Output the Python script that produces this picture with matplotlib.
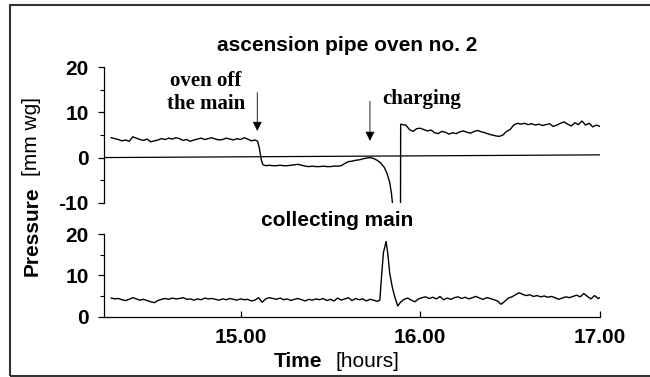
import matplotlib
matplotlib.use("Agg")
import matplotlib.pyplot as plt
from matplotlib.patches import Rectangle

plt.rcParams["axes.unicode_minus"] = False

# ascension pipe (oven no. 2) pressure, mm wg
top_time = [14.28, 14.30, 14.32, 14.34, 14.36, 14.38, 14.40, 14.42, 14.44, 14.46,
            14.48, 14.50, 14.52, 14.54, 14.56, 14.58, 14.60, 14.62, 14.64, 14.66,
            14.68, 14.70, 14.72, 14.74, 14.76, 14.78, 14.80, 14.82, 14.84, 14.86,
            14.88, 14.90, 14.92, 14.94, 14.96, 14.98, 15.00, 15.02, 15.04, 15.06,
            15.08, 15.095, 15.105, 15.115, 15.125, 15.14, 15.16, 15.18, 15.20, 15.22,
            15.24, 15.26, 15.28, 15.30, 15.32, 15.34, 15.36, 15.38, 15.40, 15.42,
            15.44, 15.46, 15.48, 15.50, 15.52, 15.54, 15.56, 15.58, 15.60, 15.62,
            15.64, 15.66, 15.68, 15.70, 15.72, 15.74, 15.76, 15.78, 15.80, 15.815,
            15.83, 15.84, 15.85, 15.88, 15.89, 15.891, 15.90, 15.92, 15.94, 15.96,
            15.98, 16.00, 16.02, 16.04, 16.06, 16.08, 16.10, 16.12, 16.14, 16.16,
            16.18, 16.20, 16.22, 16.24, 16.26, 16.28, 16.30, 16.32, 16.34, 16.36,
            16.38, 16.40, 16.42, 16.44, 16.46, 16.48, 16.50, 16.52, 16.54, 16.56,
            16.58, 16.60, 16.62, 16.64, 16.66, 16.68, 16.70, 16.72, 16.74, 16.76,
            16.78, 16.80, 16.82, 16.84, 16.86, 16.88, 16.90, 16.92, 16.94, 16.96,
            16.98, 17.00]
top_pressure = [4.4, 4.2, 4.0, 3.7, 3.9, 3.6, 4.6, 4.3, 4.0, 3.8,
                4.1, 3.5, 3.7, 3.9, 4.2, 4.0, 4.3, 4.1, 4.4, 4.2,
                3.8, 4.0, 3.6, 3.9, 4.1, 4.3, 4.0, 4.2, 4.4, 4.1,
                3.9, 4.0, 4.3, 4.1, 3.9, 4.2, 4.0, 4.4, 4.1, 3.7,
                3.9, 3.6, 2.0, -0.5, -1.6, -1.8, -1.7, -1.8, -1.8, -1.7,
                -1.8, -1.8, -1.7, -1.6, -1.5, -1.7, -1.9, -2.0, -1.9, -2.0,
                -2.0, -1.9, -2.0, -2.0, -1.9, -1.9, -1.8, -1.3, -0.9, -0.8,
                -0.6, -0.5, -0.3, -0.1, 0.0, -0.2, -0.6, -1.2, -2.2, -3.5,
                -5.5, -8.0, -12.0, -12.0, -12.0, 7.4, 7.3, 7.2, 6.2, 5.8,
                6.4, 6.5, 6.2, 5.9, 6.1, 5.5, 5.3, 5.8, 5.6, 5.2,
                5.5, 5.3, 5.7, 5.9, 5.6, 5.4, 5.8, 6.0, 5.7, 5.5,
                5.2, 5.0, 4.8, 4.7, 5.0, 5.8, 6.2, 7.2, 7.6, 7.4,
                7.6, 7.3, 7.5, 7.2, 7.4, 7.1, 7.3, 7.5, 6.9, 7.2,
                7.6, 7.9, 7.4, 7.0, 7.7, 7.3, 8.1, 7.2, 7.6, 6.8,
                7.2, 6.9]

# hand drawn reference line in the upper panel
baseline_time = [14.24, 17.00]
baseline_level = [0.0, 0.6]

# collecting main pressure, mm wg
main_time = [14.28, 14.30, 14.32, 14.34, 14.36, 14.38, 14.40, 14.42, 14.44, 14.46,
             14.48, 14.50, 14.52, 14.54, 14.56, 14.58, 14.60, 14.62, 14.64, 14.66,
             14.68, 14.70, 14.72, 14.74, 14.76, 14.78, 14.80, 14.82, 14.84, 14.86,
             14.88, 14.90, 14.92, 14.94, 14.96, 14.98, 15.00, 15.02, 15.04, 15.06,
             15.08, 15.10, 15.12, 15.14, 15.16, 15.18, 15.20, 15.22, 15.24, 15.26,
             15.28, 15.30, 15.32, 15.34, 15.36, 15.38, 15.40, 15.42, 15.44, 15.46,
             15.48, 15.50, 15.52, 15.54, 15.56, 15.58, 15.60, 15.62, 15.64, 15.66,
             15.68, 15.70, 15.72, 15.74, 15.76, 15.775, 15.785, 15.795, 15.81, 15.82,
             15.83, 15.845, 15.86, 15.875, 15.89, 15.91, 15.93, 15.95, 15.97, 15.99,
             16.01, 16.03, 16.05, 16.07, 16.09, 16.11, 16.13, 16.15, 16.17, 16.19,
             16.21, 16.23, 16.25, 16.27, 16.29, 16.31, 16.33, 16.35, 16.37, 16.39,
             16.41, 16.43, 16.45, 16.47, 16.49, 16.51, 16.53, 16.55, 16.57, 16.59,
             16.61, 16.63, 16.65, 16.67, 16.69, 16.71, 16.73, 16.75, 16.77, 16.79,
             16.81, 16.83, 16.85, 16.87, 16.89, 16.91, 16.93, 16.95, 16.97, 16.99,
             17.00]
main_pressure = [4.5, 4.3, 4.4, 4.1, 3.9, 4.2, 4.6, 4.3, 4.0, 4.2,
                 3.9, 3.6, 3.4, 3.9, 4.2, 4.4, 4.2, 4.5, 4.3, 4.4,
                 4.6, 4.2, 4.3, 4.0, 4.3, 4.1, 4.5, 4.3, 4.4, 4.2,
                 4.0, 4.3, 4.1, 4.4, 4.2, 4.0, 4.3, 4.1, 4.2, 3.8,
                 4.0, 4.6, 3.5, 4.3, 4.6, 4.4, 4.2, 4.5, 4.1, 4.3,
                 3.9, 4.2, 4.4, 4.1, 3.8, 4.2, 4.0, 4.3, 4.1, 4.4,
                 3.9, 4.2, 3.8, 4.5, 4.0, 4.3, 4.6, 3.9, 4.4, 4.1,
                 4.3, 3.8, 4.2, 4.0, 3.7, 4.0, 10.0, 15.5, 18.2, 15.0,
                 10.5, 7.0, 4.5, 2.6, 3.5, 4.2, 4.5, 4.0, 3.6, 4.3,
                 4.6, 4.8, 4.4, 4.7, 4.3, 4.9, 4.1, 4.5, 4.2, 4.6,
                 4.8, 4.4, 4.7, 4.3, 4.6, 4.9, 4.5, 4.2, 4.6, 4.4,
                 4.1, 3.8, 3.0, 3.7, 4.5, 4.8, 5.3, 5.8, 5.4, 5.1,
                 5.3, 4.9, 5.1, 4.8, 5.0, 4.7, 4.9, 4.6, 4.2, 4.5,
                 4.8, 4.6, 4.9, 5.2, 4.8, 5.6, 4.9, 4.3, 5.1, 4.4,
                 4.6]

x_ticks = [15.0, 16.0, 17.0]
x_tick_labels = ["15.00", "16.00", "17.00"]
top_y_ticks = [-10, 0, 10, 20]
main_y_ticks = [0, 10, 20]

sans_bold = dict(family="Liberation Sans", weight="bold", size=15)
sans_reg = dict(family="Liberation Sans", size=15)
serif_bold = dict(family="Liberation Serif", weight="bold", size=15)

fig = plt.figure(figsize=(6.5, 3.77), dpi=100)

ax1 = fig.add_axes([0.16, 0.4623, 0.763, 0.3592])
ax2 = fig.add_axes([0.16, 0.16, 0.763, 0.2193])

# upper panel: ascension pipe
ax1.plot(top_time, top_pressure, color="black", lw=1.0)
ax1.plot(baseline_time, baseline_level, color="black", lw=0.9)
ax1.set_xlim(14.24, 17.0)
ax1.set_ylim(-10, 20)
ax1.set_yticks(top_y_ticks)
ax1.set_yticks([-5, 5, 15], minor=True)
ax1.set_xticks([])
for s in ["top", "right", "bottom"]:
    ax1.spines[s].set_visible(False)

# lower panel: collecting main
ax2.plot(main_time, main_pressure, color="black", lw=1.0)
ax2.set_xlim(14.24, 17.0)
ax2.set_ylim(0, 20)
ax2.set_yticks(main_y_ticks)
ax2.set_yticks([5, 15], minor=True)
ax2.set_xticks(x_ticks)
ax2.set_xticklabels(x_tick_labels)
for s in ["top", "right"]:
    ax2.spines[s].set_visible(False)

for ax in (ax1, ax2):
    ax.set_facecolor("none")
    ax.spines["left"].set_linewidth(0.9)
    ax.spines["bottom"].set_linewidth(0.9)
    ax.tick_params(axis="y", which="major", direction="out", length=4, width=0.9, pad=7)
    ax.tick_params(axis="y", which="minor", direction="out", length=3, width=0.8)
    for lab in ax.get_yticklabels():
        lab.set_fontproperties(sans_bold)
ax2.tick_params(axis="x", which="major", direction="in", length=4, width=0.9, pad=8)
for lab in ax2.get_xticklabels():
    lab.set_fontproperties(sans_bold)

# event arrows in the upper panel
arrow_style = dict(arrowstyle="-|>", color="black", lw=0.6, mutation_scale=14,
                   shrinkA=0, shrinkB=0)
ax1.annotate("", xy=(15.093, 5.9), xytext=(15.093, 14.4), arrowprops=arrow_style)
ax1.annotate("", xy=(15.72, 3.7), xytext=(15.72, 12.5), arrowprops=arrow_style)
ax1.text(14.806, 14.4, "oven off\nthe main", ha="center", va="center",
         linespacing=1.2, **serif_bold)
ax1.text(16.01, 12.9, "charging", ha="center", va="center", **serif_bold)

# titles and labels as loose figure text
fig.text(346.7 / 650, 1 - 45.7 / 377, "ascension pipe oven no. 2",
         ha="center", va="center", **sans_bold)
fig.text(337 / 650, 1 - 221 / 377, "collecting main",
         ha="center", va="center", **sans_bold)
fig.text(298 / 650, 1 - 361.7 / 377, "Time", ha="center", va="center", **sans_bold)
fig.text(367 / 650, 1 - 361.7 / 377, "[hours]", ha="center", va="center", **sans_reg)
fig.text(31.7 / 650, 1 - 231 / 377, "Pressure", ha="center", va="center",
         rotation=90, **sans_bold)
fig.text(31.7 / 650, 1 - 136 / 377, "[mm wg]", ha="center", va="center",
         rotation=90, **sans_reg)

# frame around the whole figure
fig.patches.append(Rectangle((10 / 650, 1 / 377), 1.2, 1 - 6 / 377,
                             transform=fig.transFigure, fill=False,
                             edgecolor="#333333", lw=1.5, figure=fig))

fig.savefig("out.png", dpi=100)
